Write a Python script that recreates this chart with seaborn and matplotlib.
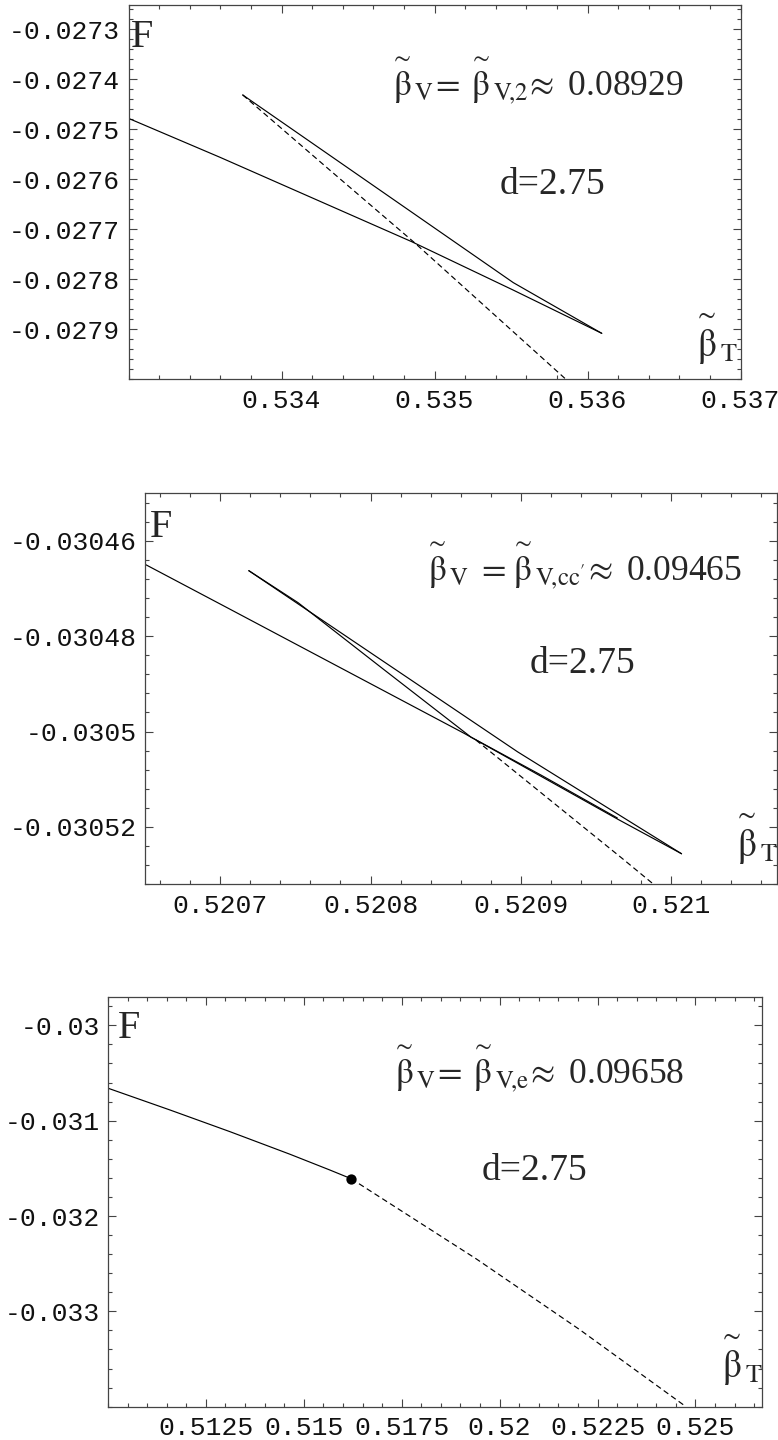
import matplotlib
matplotlib.use("Agg")
import matplotlib.pyplot as plt
from matplotlib.ticker import FixedLocator, AutoMinorLocator, FuncFormatter
import pandas as pd
import seaborn as sns

# ---------------- data ----------------
# panel 1: beta_V = beta_V,2
p1_stable_x = [0.533, 0.533598, 0.534851, 0.535515, 0.536093]
p1_stable_F = [-0.027478, -0.027556, -0.027725, -0.027822, -0.0279085]
p1_meta_x = [0.533746, 0.535515, 0.536093]
p1_meta_F = [-0.027431, -0.027807, -0.0279085]
p1_unstable_x = [0.533746, 0.534317, 0.534873, 0.535864]
p1_unstable_F = [-0.027431, -0.027582, -0.027728, -0.028002]
p1_xticks = [0.534, 0.535, 0.536, 0.537]
p1_yticks = [-0.0273, -0.0274, -0.0275, -0.0276, -0.0277, -0.0278, -0.0279]
p1_xlim = (0.533, 0.537)
p1_ylim = (-0.0280, -0.02725)

# panel 2: beta_V = beta_V,cc'
p2_stable_x = [0.52065, 0.52070757, 0.52086238, 0.52096417, 0.52100684]
p2_stable_F = [-0.0304649, -0.0304745, -0.0305004, -0.03051836, -0.03052565]
p2_upper_x = [0.52071904, 0.52089781, 0.52100684]
p2_upper_F = [-0.03046624, -0.03050426, -0.03052565]
p2_inner_x = [0.52071904, 0.52075182, 0.52080929, 0.52086682, 0.52091327, 0.52096417]
p2_inner_F = [-0.03046624, -0.03047296, -0.0304871, -0.03050118, -0.03050912, -0.03051815]
p2_unstable_x = [0.52087014, 0.52096749, 0.52098826]
p2_unstable_F = [-0.0305018, -0.03052666, -0.03053206]
p2_xticks = [0.5207, 0.5208, 0.5209, 0.521]
p2_yticks = [-0.03046, -0.03048, -0.0305, -0.03052]
p2_xlim = (0.52065, 0.52107)
p2_ylim = (-0.030532, -0.03045)

# panel 3: beta_V = beta_V,e
p3_stable_x = [0.51, 0.511582, 0.513112, 0.514643, 0.515663, 0.5162117]
p3_stable_F = [-0.0306597, -0.030888, -0.0311152, -0.0313518, -0.0315173, -0.0316094]
p3_unstable_x = [0.5162117, 0.5194056, 0.5220408, 0.52476]
p3_unstable_F = [-0.0316094, -0.0324503, -0.0331906, -0.0340]
p3_xticks = [0.5125, 0.515, 0.5175, 0.52, 0.5225, 0.525]
p3_yticks = [-0.03, -0.031, -0.032, -0.033]
p3_xlim = (0.51, 0.5267)
p3_ylim = (-0.034, -0.0297)

# annotation texts
BT = r"\overset{\sim}{\mathrm{\beta}}"
p1_label = rf"${BT}_{{\mathrm{{V}}}}\!=\,{BT}_{{\mathrm{{V}}\!,\!2}}\!\approx$ 0.08929"
p2_label = rf"${BT}_{{\mathrm{{V}}}}\;={BT}_{{\mathrm{{V}}\!,\!\mathrm{{cc}}'}}\!\approx$ 0.09465"
p3_label = rf"${BT}_{{\mathrm{{V}}}}\!=\,{BT}_{{\mathrm{{V}}\!,\!\mathrm{{e}}}}\!\approx$ 0.09658"
beta_T_label = rf"${BT}_{{\mathrm{{T}}}}$"
dimension_label = "d=2.75"

# ---------------- style ----------------
sns.set_theme(style="white")
plt.rcParams["mathtext.fontset"] = "stix"
plt.rcParams["font.family"] = ["Liberation Serif", "DejaVu Serif"]

SERIF = "Liberation Serif"
MONO = "Liberation Mono"
LW = 0.85
DASH = (0, (4.8, 3.0))

fig = plt.figure(figsize=(7.78, 14.4), dpi=100)
fig.patch.set_facecolor("white")

ax1 = fig.add_axes([128.5 / 778, 1 - 379 / 1440, 612 / 778, 374.5 / 1440])
ax2 = fig.add_axes([145 / 778, 1 - 884 / 1440, 631.5 / 778, 390.7 / 1440])
ax3 = fig.add_axes([108 / 778, 1 - 1406.7 / 1440, 654 / 778, 410 / 1440])


def branch(ax, xs, ys, dashed=False):
    df = pd.DataFrame({"beta_T": xs, "F": ys})
    kw = dict(linestyle=DASH) if dashed else {}
    sns.lineplot(data=df, x="beta_T", y="F", ax=ax, sort=False, estimator=None,
                 color="black", lw=LW, **kw)


def frame(ax, xticks, yticks, xlim, ylim):
    ax.set_xlim(*xlim)
    ax.set_ylim(*ylim)
    ax.xaxis.set_major_locator(FixedLocator(xticks))
    ax.yaxis.set_major_locator(FixedLocator(yticks))
    ax.xaxis.set_minor_locator(AutoMinorLocator(5))
    ax.yaxis.set_minor_locator(AutoMinorLocator(5))
    fmt = FuncFormatter(lambda v, _: f"{round(v, 8):g}")
    ax.xaxis.set_major_formatter(fmt)
    ax.yaxis.set_major_formatter(fmt)
    ax.tick_params(which="both", direction="in", top=True, right=True,
                   bottom=True, left=True, color="#444444", width=0.8)
    ax.tick_params(which="major", length=5.5)
    ax.tick_params(which="minor", length=3)
    ax.tick_params(axis="x", pad=7)
    ax.tick_params(axis="y", pad=6)
    for lab in ax.get_xticklabels() + ax.get_yticklabels():
        lab.set_fontfamily(MONO)
        lab.set_fontsize(19)
        lab.set_color("#111111")
    for sp in ax.spines.values():
        sp.set_visible(True)
        sp.set_color("#444444")
        sp.set_linewidth(0.9)
    ax.set_xlabel("")
    ax.set_ylabel("")
    ax.set_facecolor("white")
    ax.grid(False)


def texts(ax, label, lab_xy, d_xy, f_xy, bt_xy):
    ax.text(*f_xy, "F", transform=ax.transAxes, fontsize=29,
            fontfamily=SERIF, va="baseline", ha="left")
    ax.text(*lab_xy, label, transform=ax.transAxes, fontsize=25.5,
            fontfamily=SERIF, va="baseline", ha="left")
    ax.text(*d_xy, dimension_label, transform=ax.transAxes, fontsize=27,
            fontfamily=SERIF, va="baseline", ha="left")
    ax.text(*bt_xy, beta_T_label, transform=ax.transAxes,
            fontsize=27, va="baseline", ha="left", clip_on=False)


# panel 1
branch(ax1, p1_stable_x, p1_stable_F)
branch(ax1, p1_meta_x, p1_meta_F)
branch(ax1, p1_unstable_x, p1_unstable_F, dashed=True)
frame(ax1, p1_xticks, p1_yticks, p1_xlim, p1_ylim)
texts(ax1, p1_label, (0.427, 0.753), (0.607, 0.494), (0.004, 0.887), (0.924, 0.06))

# panel 2
branch(ax2, p2_stable_x, p2_stable_F)
branch(ax2, p2_upper_x, p2_upper_F)
branch(ax2, p2_inner_x, p2_inner_F)
branch(ax2, p2_unstable_x, p2_unstable_F, dashed=True)
frame(ax2, p2_xticks, p2_yticks, p2_xlim, p2_ylim)
texts(ax2, p2_label, (0.443, 0.774), (0.609, 0.539), (0.008, 0.888), (0.933, 0.07))

# panel 3
branch(ax3, p3_stable_x, p3_stable_F)
branch(ax3, p3_unstable_x, p3_unstable_F, dashed=True)
sns.scatterplot(x=[p3_stable_x[-1]], y=[p3_stable_F[-1]], ax=ax3, color="black",
                s=55, edgecolor="black", linewidth=0, zorder=5)
frame(ax3, p3_xticks, p3_yticks, p3_xlim, p3_ylim)
texts(ax3, p3_label, (0.434, 0.785), (0.572, 0.553), (0.015, 0.899), (0.935, 0.07))

fig.savefig("out.png", dpi=100, facecolor="white")
